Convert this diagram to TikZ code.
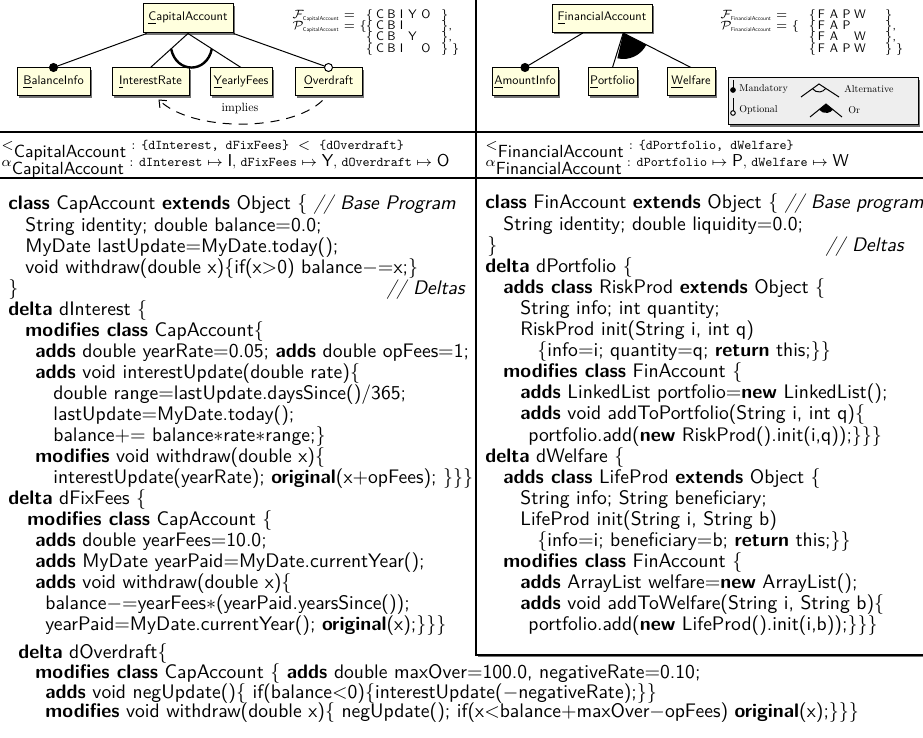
\documentclass[tikz,border=0pt]{standalone}
\usepackage{fontspec}
\setmainfont{lmroman10}[Extension=.otf, UprightFont=*-regular, BoldFont=*-bold, ItalicFont=*-italic, BoldItalicFont=*-bolditalic]
\setsansfont{lmsans10}[Extension=.otf, UprightFont=*-regular, BoldFont=*-bold, ItalicFont=*-oblique, BoldItalicFont=*-boldoblique]
\setmonofont{lmmono10}[Extension=.otf, UprightFont=*-regular, ItalicFont=*-italic]
\usetikzlibrary{arrows.meta,shadows,calc}

\definecolor{featfill}{RGB}{255,255,222}
\definecolor{legfill}{RGB}{238,238,238}

% code typesetting helpers
\newcommand\codefont{\fontsize{9.8}{9.8}\selectfont\sffamily}
\newcommand\kw[1]{\textbf{#1}}
\newcommand\cLB{$\{$}
\newcommand\cRB{$\}$}
\newcommand\cEQ{$=$}
\newcommand\cPL{$+$}
\newcommand\cMI{$-$}
\newcommand\cAST{$\ast$}
\newcommand\cLT{$<$}
\newcommand\cGT{$>$}
\newcommand\subnm[1]{\mbox{\fontsize{2.8}{3}\selectfont\sffamily #1}}
\newcommand\bigsub[1]{\mbox{\fontsize{8.8}{9}\selectfont\sffamily #1}}
\newcommand\setl[1]{\mbox{\fontsize{8.6}{9}\selectfont\sffamily #1}}

\tikzset{
  feat/.style={draw, fill=featfill, line width=0.5pt, inner sep=0pt,
    minimum height=14pt, font=\fontsize{6.2}{7}\selectfont\sffamily,
    drop shadow={shadow xshift=0.8pt, shadow yshift=-0.8pt, fill=black!55, opacity=1}},
  codeln/.style={anchor=base west, inner sep=0pt, font=\codefont},
  edge/.style={line width=0.5pt},
  mandot/.style={fill=black, draw=black, line width=0.5pt},
  optdot/.style={fill=white, draw=black, line width=0.5pt},
  legtxt/.style={anchor=west, inner sep=0pt, font=\fontsize{5}{6}\selectfont\rmfamily},
  frmtxt/.style={anchor=base west, inner sep=0pt, font=\fontsize{6}{6}\selectfont},
  setch/.style={anchor=base, inner sep=0pt, font=\fontsize{6.2}{6}\selectfont\sffamily},
  mapln/.style={anchor=base west, inner sep=0pt, font=\fontsize{6.7}{8}\selectfont},
  rule/.style={line width=0.6pt}
}

\begin{document}
\begin{tikzpicture}[x=0.5pt, y=-0.5pt]
\useasboundingbox (0,0) rectangle (923,738);

% ---------- frame lines ----------
\coordinate (h1w) at (0,132);   \coordinate (h1e) at (923,132);
\coordinate (h2w) at (0,178);   \coordinate (h2e) at (923,178);
\coordinate (vtop) at (476,0);  \coordinate (vmid) at (476,178);
\draw[rule] (h1w) -- (h1e);
\draw[rule] (vtop) -- (vmid);
\draw[rule, fill=white, drop shadow={shadow xshift=0.8pt, shadow yshift=-0.8pt, fill=black!55, opacity=1}]
  (476,178) rectangle (940,655);
\draw[rule] (h2w) -- (h2e);

% ---------- CapitalAccount feature model ----------
\node[feat, minimum width=45pt, minimum height=14.5pt] (cap) at (188,18.5) {\underline{C}apitalAccount};
\node[feat, minimum width=36.5pt] (bal) at (53.5,82) {\underline{B}alanceInfo};
\node[feat, minimum width=38.5pt] (int) at (150.5,82) {\underline{I}nterestRate};
\node[feat, minimum width=31pt] (yea) at (241,82) {\underline{Y}early{}Fees};
\node[feat, minimum width=33.5pt] (ovd) at (328.5,82) {\underline{O}verdraft};

\coordinate (capL) at ($(cap.south west)!0.045!(cap.south east)$);
\draw[edge] (capL) -- (bal.north);
\draw[edge] (cap.south) -- (int.north);
\draw[edge] (cap.south) -- (yea.north);
\draw[edge] (cap.south east) -- (ovd.north);
\fill[mandot] (bal.north) circle[radius=4];
\draw[optdot] (ovd.north) circle[radius=4];
% alternative group arc
\coordinate (altA) at ($(cap.south)!0.45!(int.north)$);
\coordinate (altB) at ($(cap.south)!0.45!(yea.north)$);
\draw[line width=1.2pt] (altA) .. controls ($(altA)+(5,25)$) and ($(altB)+(-5,25)$) .. (altB);
% implies constraint
\coordinate (impS) at ($(ovd.south)+(-6,4)$);
\coordinate (impE) at ($(int.south)+(8,3)$);
\draw[edge, dash pattern=on 4.5pt off 3.5pt, -{Straight Barb[length=3pt,width=5pt]}]
  (impS) .. controls (290,132) and (192,132) .. (impE);
\node[font=\fontsize{6}{7}\selectfont\rmfamily, inner sep=0pt] (impl) at (240,109) {implies};

% feature set and products of CapitalAccount
\node[frmtxt] (fL1) at (292,19) {$\mathcal{F}_{\subnm{CapitalAccount}} =$};
\node[frmtxt] (fL2) at (292,30) {$\mathcal{P}_{\subnm{CapitalAccount}} = \{$};
\foreach \yy [count=\k] in {19,30,41,53}
  \node[setch] (lob\k) at (369.5,\yy) {$\{$};
\foreach \ch/\xx/\yy [count=\k] in {C/380/19, B/391.5/19, I/401.5/19, Y/412.5/19, O/426/19,
    C/380/30, B/391.5/30, I/401.5/30,
    C/380/41, B/391.5/41, Y/412.5/41,
    C/380/53, B/391.5/53, I/401.5/53, O/426/53}
  \node[setch] (lch\k) at (\xx,\yy) {\ch};
\node[setch, anchor=base west] (lcb1) at (440.5,19) {$\}$};
\node[setch, anchor=base west] (lcb2) at (440.5,30) {$\}$,};
\node[setch, anchor=base west] (lcb3) at (440.5,41) {$\}$,};
\node[setch, anchor=base west] (lcb4) at (440.5,53) {$\}$\;$\}$};

% ---------- FinancialAccount feature model ----------
\node[feat, minimum width=50pt] (fin) at (602,18.5) {\underline{F}inancialAccount};
\node[feat, minimum width=33pt] (amt) at (525,82) {\underline{A}mountInfo};
\node[feat, minimum width=24.5pt] (prt) at (612.5,82) {\underline{P}ortfolio};
\node[feat, minimum width=24pt] (wel) at (691,82) {\underline{W}elfare};

\coordinate (finL) at ($(fin.south west)!0.31!(fin.south east)$);
\coordinate (finR) at ($(fin.south west)!0.71!(fin.south east)$);
\fill (finR) -- +(103:26) arc[start angle=103, end angle=27, radius=26] -- cycle;
\draw[edge] (finL) -- (amt.north);
\draw[edge] (finR) -- (prt.north);
\draw[edge] (finR) -- (wel.north);
\fill[mandot] (amt.north) circle[radius=4];

% feature set and products of FinancialAccount
\node[frmtxt] (fR1) at (720,19) {$\mathcal{F}_{\subnm{FinancialAccount}} =$};
\node[frmtxt] (fR2) at (720,30) {$\mathcal{P}_{\subnm{FinancialAccount}} = \{$};
\foreach \yy [count=\k] in {19,30,41,53}
  \node[setch] (rob\k) at (812.5,\yy) {$\{$};
\foreach \ch/\xx/\yy [count=\k] in {F/821.5/19, A/834/19, P/846.5/19, W/860/19,
    F/821.5/30, A/834/30, P/846.5/30,
    F/821.5/41, A/834/41, W/860/41,
    F/821.5/53, A/834/53, P/846.5/53, W/860/53}
  \node[setch] (rch\k) at (\xx,\yy) {\ch};
\node[setch, anchor=base west] (rcb1) at (884.5,19) {$\}$};
\node[setch, anchor=base west] (rcb2) at (884.5,30) {$\}$,};
\node[setch, anchor=base west] (rcb3) at (884.5,41) {$\}$,};
\node[setch, anchor=base west] (rcb4) at (884.5,53) {$\}$\;$\}$};

% legend
\node[draw, fill=legfill, line width=0.5pt, minimum width=95pt, minimum height=23.5pt, inner sep=0pt,
  drop shadow={shadow xshift=0.8pt, shadow yshift=-0.8pt, fill=black!55, opacity=1}] (leg) at (823,101.5) {};
\coordinate (mT) at (733,80); \coordinate (mB) at (733,90);
\draw[edge] (mT) -- (mB); \fill[mandot] (mB) circle[radius=2.3];
\node[legtxt] (ltM) at (739,89) {Mandatory};
\coordinate (oT) at (733,98); \coordinate (oB) at (733,113);
\draw[edge] (oT) -- (oB); \draw[optdot] (oB) circle[radius=2.3];
\node[legtxt] (ltO) at (739,110) {Optional};
\coordinate (aL) at (801,97); \coordinate (aP) at (819,84); \coordinate (aR) at (839,97);
\draw[edge] (aL) -- (aP) -- (aR);
\draw[edge] (aP) ++(144:8) arc[start angle=144, end angle=33, radius=8];
\node[legtxt] (ltA) at (844,89) {Alternative};
\coordinate (rL) at (810,117); \coordinate (rP) at (826,104); \coordinate (rR) at (842,117);
\fill (rP) -- +(141:9) arc[start angle=141, end angle=39, radius=9] -- cycle;
\draw[edge] (rL) -- (rP) -- (rR);
\node[legtxt] (ltR) at (848,110) {Or};

% ---------- delta orders and feature mappings ----------
\node[mapln] (ordL) at (1,150)
  {$<_{\bigsub{CapitalAccount}}$ : \texttt{\{dInterest, dFixFees\}}~~$<$~~\texttt{\{dOverdraft\}}};
\node[mapln] (alpL) at (1,167)
  {$\alpha_{\bigsub{CapitalAccount}}$ : \texttt{dInterest}${}\mapsto{}$\setl{I}, \texttt{dFixFees}${}\mapsto{}$\setl{Y}, \texttt{dOverdraft}${}\mapsto{}$\setl{O}};
\node[mapln] (ordR) at (485,150)
  {$<_{\bigsub{FinancialAccount}}$ : \texttt{\{dPortfolio, dWelfare\}}};
\node[mapln] (alpR) at (485,167)
  {$\alpha_{\bigsub{FinancialAccount}}$ : \texttt{dPortfolio}${}\mapsto{}$\setl{P}, \texttt{dWelfare}${}\mapsto{}$\setl{W}};

% ---------- CapAccount program ----------
\node[codeln] (l1) at (8,210) {\kw{class} CapAccount \kw{extends} Object \cLB{} \textit{// Base Program}};
\node[codeln] (l2) at (25,231.05) {String identity; double balance\cEQ0.0;};
\node[codeln] (l3) at (25,252.1) {MyDate lastUpdate\cEQ{}MyDate.today();};
\node[codeln] (l4) at (25,273.15) {void withdraw(double x)\cLB{}if(x\cGT0) balance\cMI\cEQ{}x;\cRB};
\node[codeln] (l5) at (8,294.2) {\cRB};
\node[codeln, anchor=base east] (l5c) at (466,294.2) {\textit{// Deltas}};
\node[codeln] (l6) at (8,315.25) {\kw{delta} dInterest \cLB};
\node[codeln] (l7) at (25,336.3) {\kw{modifies class} CapAccount\cLB};
\node[codeln] (l8) at (35,357.35) {\kw{adds} double yearRate\cEQ0.05; \kw{adds} double opFees\cEQ1;};
\node[codeln] (l9) at (35,378.4) {\kw{adds} void interestUpdate(double rate)\cLB};
\node[codeln] (l10) at (53,399.45) {double range\cEQ{}lastUpdate.daysSince()/365;};
\node[codeln] (l11) at (53,420.5) {lastUpdate\cEQ{}MyDate.today();};
\node[codeln] (l12) at (53,441.55) {balance\cPL\cEQ{} balance\cAST{}rate\cAST{}range;\cRB};
\node[codeln] (l13) at (35,462.6) {\kw{modifies} void withdraw(double x)\cLB};
\node[codeln] (l14) at (53,483.65) {interestUpdate(yearRate); \kw{original}(x\cPL{}opFees); \cRB\cRB\cRB};
\node[codeln] (l15) at (8,504.7) {\kw{delta} dFixFees \cLB};
\node[codeln] (l16) at (27,525.75) {\kw{modifies class} CapAccount \cLB};
\node[codeln] (l17) at (35,546.8) {\kw{adds} double yearFees\cEQ10.0;};
\node[codeln] (l18) at (35,567.85) {\kw{adds} MyDate yearPaid\cEQ{}MyDate.currentYear();};
\node[codeln] (l19) at (35,588.9) {\kw{adds} void withdraw(double x)\cLB};
\node[codeln] (l20) at (45,609.95) {balance\cMI\cEQ{}yearFees\cAST(yearPaid.yearsSince());};
\node[codeln] (l21) at (45,631) {yearPaid\cEQ{}MyDate.currentYear(); \kw{original}(x);\cRB\cRB\cRB};
\node[codeln] (l22) at (18,658) {\kw{delta} dOverdraft\cLB};
\node[codeln] (l23) at (35,678) {\kw{modifies class} CapAccount \cLB{} \kw{adds} double maxOver\cEQ100.0, negativeRate\cEQ0.10;};
\node[codeln] (l24) at (45,698) {\kw{adds} void negUpdate()\cLB{} if(balance\cLT0)\cLB{}interestUpdate(\cMI{}negativeRate);\cRB\cRB};
\node[codeln] (l25) at (45,718) {\kw{modifies} void withdraw(double x)\cLB{} negUpdate(); if(x\cLT{}balance\cPL{}maxOver\cMI{}opFees) \kw{original}(x);\cRB\cRB\cRB};

% ---------- FinAccount program ----------
\node[codeln] (r1) at (485,209) {\kw{class} FinAccount \kw{extends} Object \cLB{} \textit{// Base program}};
\node[codeln] (r2) at (503,230.1) {String identity; double liquidity\cEQ0.0;};
\node[codeln] (r3) at (487,251.2) {\cRB};
\node[codeln, anchor=base east] (r3c) at (905,251.2) {\textit{// Deltas}};
\node[codeln] (r4) at (485,272.3) {\kw{delta} dPortfolio \cLB};
\node[codeln] (r5) at (503,293.4) {\kw{adds class} RiskProd \kw{extends} Object \cLB};
\node[codeln] (r6) at (520,314.5) {String info; int quantity;};
\node[codeln] (r7) at (520,335.6) {RiskProd init(String i, int q)};
\node[codeln] (r8) at (537,356.7) {\cLB{}info\cEQ{}i; quantity\cEQ{}q; \kw{return} this;\cRB\cRB};
\node[codeln] (r9) at (503,377.8) {\kw{modifies class} FinAccount \cLB};
\node[codeln] (r10) at (520,398.9) {\kw{adds} LinkedList portfolio\cEQ\kw{new} LinkedList();};
\node[codeln] (r11) at (520,420) {\kw{adds} void addToPortfolio(String i, int q)\cLB};
\node[codeln] (r12) at (528,441.1) {portfolio.add(\kw{new} RiskProd().init(i,q));\cRB\cRB\cRB};
\node[codeln] (r13) at (485,462.2) {\kw{delta} dWelfare \cLB};
\node[codeln] (r14) at (503,483.3) {\kw{adds class} LifeProd \kw{extends} Object \cLB};
\node[codeln] (r15) at (520,504.4) {String info; String beneficiary;};
\node[codeln] (r16) at (520,525.5) {LifeProd init(String i, String b)};
\node[codeln] (r17) at (537,546.6) {\cLB{}info\cEQ{}i; beneficiary\cEQ{}b; \kw{return} this;\cRB\cRB};
\node[codeln] (r18) at (503,567.7) {\kw{modifies class} FinAccount \cLB};
\node[codeln] (r19) at (520,588.8) {\kw{adds} ArrayList welfare\cEQ\kw{new} ArrayList();};
\node[codeln] (r20) at (520,609.9) {\kw{adds} void addToWelfare(String i, String b)\cLB};
\node[codeln] (r21) at (528,631) {portfolio.add(\kw{new} LifeProd().init(i,b));\cRB\cRB\cRB};
\end{tikzpicture}
\end{document}
